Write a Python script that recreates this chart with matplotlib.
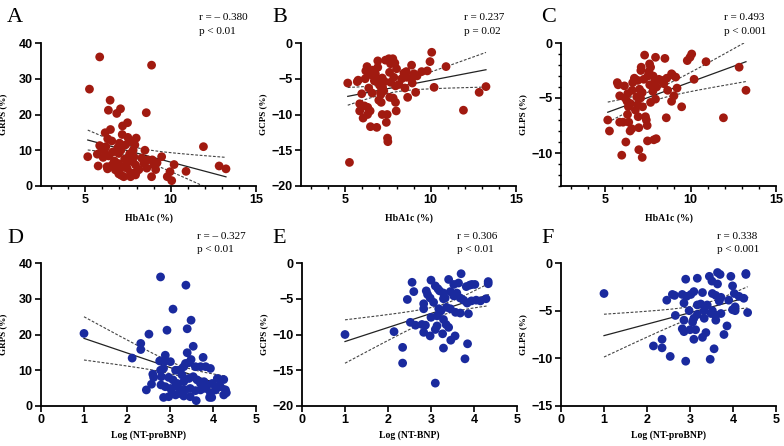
import numpy as np
import matplotlib
matplotlib.use("Agg")
import matplotlib.pyplot as plt

####################################################################
# Data
####################################################################
# HbA1c (%) - shared by panels A, B, C
hba1c = [5.14, 5.24, 5.70, 5.75, 5.84, 5.84, 5.96, 6.04, 6.12, 6.16,
         6.20, 6.27, 6.30, 6.31, 6.35, 6.37, 6.45, 6.47, 6.55, 6.57,
         6.60, 6.70, 6.76, 6.84, 6.90, 6.90, 6.92, 6.96, 6.96, 7.00,
         7.06, 7.08, 7.10, 7.16, 7.16, 7.18, 7.25, 7.30, 7.35, 7.40,
         7.45, 7.47, 7.49, 7.55, 7.59, 7.60, 7.65, 7.65, 7.78, 7.80,
         7.84, 7.90, 7.94, 7.94, 7.98, 8.00, 8.14, 8.30, 8.43, 8.49,
         8.57, 8.60, 8.65, 8.88, 8.88, 8.92, 9.02, 9.12, 9.20, 9.47,
         9.80, 9.96, 10.06, 10.20, 10.90, 11.92, 12.84, 13.24]

grps_a = [8.2, 27.1, 8.9, 5.6, 36.1, 11.3, 10.5, 8.0, 9.8, 14.9,
          11.0, 5.4, 4.8, 13.2, 21.2, 8.4, 24.0, 15.8, 12.6, 5.9,
          9.5, 7.0, 4.5, 20.3, 10.7, 4.2, 6.3, 9.1, 3.4, 12.0,
          21.6, 10.0, 3.0, 14.4, 5.2, 16.8, 2.6, 7.5, 11.5, 6.0,
          4.9, 17.7, 13.6, 8.2, 12.4, 9.0, 3.7, 2.6, 6.8, 10.0,
          8.2, 11.5, 5.9, 3.1, 13.4, 4.0, 4.6, 7.8, 6.3, 10.0,
          20.5, 5.0, 7.3, 33.8, 2.6, 7.3, 5.9, 4.6, 6.5, 8.2,
          2.6, 4.0, 1.5, 6.0, 4.1, 11.0, 5.6, 4.8]

gcps_b = [-5.6, -16.7, -5.4, -5.2, -8.5, -9.5, -7.1, -10.5, -8.8, -5.0,
          -3.9, -3.3, -10.0, -9.0, -4.2, -6.3, -9.5, -11.7, -4.5, -7.0,
          -3.8, -5.3, -4.3, -11.8, -2.5, -3.4, -5.1, -5.6, -8.0, -5.9,
          -6.9, -7.2, -8.3, -10.0, -4.9, -6.2, -6.7, -5.4, -2.4, -11.1,
          -10.0, -13.3, -13.8, -2.2, -4.1, -7.6, -2.9, -5.5, -2.2, -7.7,
          -4.8, -2.8, -8.3, -6.0, -9.5, -3.6, -5.8, -5.0, -4.2, -6.3,
          -4.0, -4.8, -7.6, -5.0, -3.1, -5.6, -4.3, -6.9, -4.6, -4.0,
          -3.9, -2.6, -1.3, -6.2, -3.3, -9.4, -6.9, -6.1]

glps_c = [-7.0, -8.0, -3.6, -3.8, -4.8, -7.2, -10.2, -7.2, -3.9, -5.0,
          -9.0, -5.3, -6.5, -4.6, -5.8, -7.2, -8.0, -5.5, -7.8, -4.3,
          -3.6, -3.2, -6.1, -4.9, -5.6, -3.4, -6.7, -7.7, -9.7, -4.2,
          -5.0, -2.5, -2.2, -10.4, -4.5, -5.8, -3.3, -1.1, -6.7, -7.0,
          -7.5, -8.9, -3.0, -2.6, -1.9, -3.8, -5.4, -2.2, -4.4, -3.0,
          -8.8, -3.5, -1.3, -5.1, -8.7, -4.0, -3.3, -3.4, -3.7, -1.4,
          -6.8, -3.2, -4.3, -2.8, -5.3, -2.9, -4.8, -3.1, -4.1, -5.8,
          -1.6, -1.3, -1.0, -3.3, -1.7, -6.8, -2.2, -4.3]

# Log (NT-proBNP) vs GRPS - panel D
bnp_d = [1.00, 2.12, 2.32, 2.32, 2.45, 2.51, 2.57, 2.60, 2.62, 2.76,
         2.78, 2.78, 2.79, 2.80, 2.85, 2.85, 2.89, 2.89, 2.89, 2.93,
         2.97, 2.97, 3.01, 3.01, 3.05, 3.07, 3.07, 3.13, 3.13, 3.13,
         3.17, 3.20, 3.22, 3.24, 3.28, 3.32, 3.32, 3.32, 3.36, 3.36,
         3.37, 3.40, 3.40, 3.44, 3.44, 3.47, 3.47, 3.49, 3.49, 3.54,
         3.54, 3.59, 3.59, 3.61, 3.63, 3.71, 3.71, 3.71, 3.77, 3.79,
         3.83, 3.83, 3.87, 3.92, 3.94, 3.94, 3.97, 3.98, 4.06, 4.06,
         4.10, 4.16, 4.17, 4.25, 4.25, 4.29, 4.31]
grps_d = [20.3, 13.4, 17.5, 15.8, 4.5, 20.1, 6.1, 8.9, 8.0, 12.6,
          36.1, 10.0, 5.9, 8.2, 10.5, 2.4, 14.2, 12.6, 5.4, 21.2,
          8.0, 2.6, 12.4, 4.9, 3.5, 27.1, 7.3, 10.0, 5.5, 3.1,
          6.3, 10.0, 3.5, 4.7, 8.7, 11.0, 6.8, 2.8, 11.9, 4.5,
          33.8, 21.6, 14.9, 12.1, 7.7, 4.9, 2.6, 24.0, 13.0, 16.7,
          8.2, 11.0, 4.3, 1.5, 7.3, 11.0, 6.3, 4.5, 13.6, 6.8,
          11.0, 4.9, 5.9, 2.4, 10.5, 3.7, 2.4, 6.3, 5.4, 4.5,
          7.7, 7.4, 5.4, 7.4, 3.1, 4.5, 3.7]

# Log (NT-BNP) vs GCPS - panel E
bnp_e = [1.00, 2.14, 2.34, 2.34, 2.45, 2.52, 2.56, 2.60, 2.64, 2.79,
         2.83, 2.83, 2.83, 2.87, 2.89, 2.92, 2.98, 2.98, 3.00, 3.00,
         3.06, 3.10, 3.10, 3.10, 3.14, 3.14, 3.16, 3.18, 3.20, 3.23,
         3.27, 3.29, 3.29, 3.29, 3.29, 3.33, 3.35, 3.36, 3.41, 3.41,
         3.45, 3.45, 3.46, 3.53, 3.53, 3.56, 3.57, 3.60, 3.64, 3.68,
         3.68, 3.70, 3.76, 3.79, 3.82, 3.84, 3.85, 3.87, 3.90, 3.94,
         3.95, 4.02, 4.05, 4.15, 4.28, 4.33, 4.33]
gcps_e = [-10.0, -9.6, -11.8, -14.0, -5.1, -8.3, -2.7, -4.0, -8.7, -8.6,
          -5.7, -6.4, -9.7, -8.7, -3.9, -4.4, -4.9, -10.2, -2.4, -7.6,
          -5.5, -3.2, -9.3, -16.8, -8.8, -7.4, -3.6, -6.4, -3.9, -6.7,
          -9.9, -4.2, -7.9, -11.9, -5.0, -4.9, -8.6, -6.2, -2.3, -9.0,
          -4.0, -6.4, -10.8, -3.0, -4.6, -10.2, -6.9, -4.2, -2.8, -4.9,
          -7.0, -1.5, -5.2, -13.4, -3.3, -5.6, -11.3, -7.1, -3.1, -5.3,
          -3.0, -3.0, -5.2, -5.3, -5.0, -2.6, -2.9]

# Log (NT-proBNP) vs GLPS - panel F
bnp_f = [1.00, 2.15, 2.35, 2.35, 2.46, 2.54, 2.59, 2.64, 2.66, 2.82,
         2.82, 2.86, 2.86, 2.86, 2.90, 2.90, 2.92, 2.98, 3.00, 3.02,
         3.06, 3.09, 3.09, 3.09, 3.13, 3.17, 3.17, 3.17, 3.25, 3.29,
         3.29, 3.33, 3.33, 3.37, 3.40, 3.45, 3.47, 3.49, 3.51, 3.52,
         3.52, 3.56, 3.60, 3.60, 3.60, 3.64, 3.64, 3.68, 3.70, 3.72,
         3.72, 3.79, 3.86, 3.90, 3.95, 3.99, 3.99, 4.03, 4.05, 4.05,
         4.14, 4.25, 4.30, 4.30, 4.34]
glps_f = [-3.2, -8.7, -8.0, -8.9, -3.9, -9.8, -3.3, -3.4, -5.5, -3.3,
          -6.9, -4.2, -6.0, -7.2, -1.7, -10.3, -3.5, -5.0, -7.0, -3.3,
          -6.2, -3.0, -8.0, -5.8, -7.0, -1.6, -4.4, -5.4, -4.3, -3.1,
          -7.8, -5.0, -5.8, -7.3, -4.4, -1.4, -10.1, -5.3, -1.9, -3.2,
          -5.0, -9.0, -3.4, -5.5, -6.0, -1.0, -2.2, -4.0, -1.2, -3.6,
          -5.3, -7.5, -6.6, -3.9, -1.4, -2.4, -4.9, -3.2, -4.6, -5.0,
          -3.5, -3.7, -1.2, -1.1, -5.2]

panel_letters = ["A", "B", "C", "D", "E", "F"]
r_texts = ["r = \u2013 0.380", "r = 0.237", "r = 0.493",
           "r = \u2013 0.327", "r = 0.306", "r = 0.338"]
p_texts = ["p < 0.01", "p = 0.02", "p < 0.001",
           "p < 0.01", "p < 0.01", "p < 0.001"]
y_labels = ["GRPS (%)", "GCPS (%)", "GLPS (%)",
            "GRPS (%)", "GCPS (%)", "GLPS (%)"]
x_labels = ["HbA1c (%)", "HbA1c (%)", "HbA1c (%)",
            "Log (NT-proBNP)", "Log (NT-BNP)", "Log (NT-proBNP)"]

RED = "#a11a10"
BLUE = "#1a2a9e"
SANS = "Liberation Sans"
SERIF = "Liberation Serif"


####################################################################
# Functions
####################################################################
def fit_band(x, y):
    # least squares line with 95% confidence band of the mean
    x = np.asarray(x, float)
    y = np.asarray(y, float)
    n = len(x)
    slope, intercept = np.polyfit(x, y, 1)
    xs = np.linspace(x.min(), x.max(), 200)
    yhat = intercept + slope * xs
    resid = y - (intercept + slope * x)
    s = np.sqrt(np.sum(resid ** 2) / (n - 2))
    sxx = np.sum((x - x.mean()) ** 2)
    se = s * np.sqrt(1.0 / n + (xs - x.mean()) ** 2 / sxx)
    return xs, yhat, yhat - 1.99 * se, yhat + 1.99 * se


def style_axes(ax, xlim, ylim, xmajor, ymajor, xminor=None, yminor=None):
    for side in ["top", "right"]:
        ax.spines[side].set_visible(False)
    for side in ["left", "bottom"]:
        ax.spines[side].set_linewidth(1.3)
    ax.set_xlim(*xlim)
    ax.set_ylim(*ylim)
    ax.set_xticks(xmajor)
    ax.set_yticks(ymajor)
    if xminor is not None:
        ax.set_xticks(xminor, minor=True)
    if yminor is not None:
        ax.set_yticks(yminor, minor=True)
    ax.tick_params(which="major", direction="out", length=4, width=1.2,
                   pad=2, labelsize=9)
    ax.tick_params(which="minor", direction="out", length=2.5, width=1.0)
    for lab in ax.get_xticklabels() + ax.get_yticklabels():
        lab.set_fontfamily(SANS)
        lab.set_fontweight("bold")


####################################################################
# Figure
####################################################################
fig = plt.figure(figsize=(7.84, 4.46), dpi=100)

W, H = 784.0, 446.0
lefts = [41, 301, 561]
tops = [43, 263]
aw, ah = 215, 143

panels = [
    (hba1c, grps_a, RED), (hba1c, gcps_b, RED), (hba1c, glps_c, RED),
    (bnp_d, grps_d, BLUE), (bnp_e, gcps_e, BLUE), (bnp_f, glps_f, BLUE),
]
ylims = [(0, 40), (-20, 0), (-13, 0), (0, 40), (-20, 0), (-15, 0)]
yticks = [np.arange(0, 41, 10), np.arange(-20, 1, 5), [-10, -5, 0],
          np.arange(0, 41, 10), np.arange(-20, 1, 5), [-15, -10, -5, 0]]

for i, (xd, yd, col) in enumerate(panels):
    row, colm = divmod(i, 3)
    left = lefts[colm] + (1 if i == 4 else 0)
    top = tops[row]
    ax = fig.add_axes([left / W, 1 - (top + ah) / H, aw / W, ah / H])

    xs, yhat, lo, hi = fit_band(xd, yd)
    ax.plot(xs, hi, color="#444444", lw=0.8, ls=(0, (2.5, 1.5)))
    ax.plot(xs, lo, color="#444444", lw=0.8, ls=(0, (2.5, 1.5)))
    ax.plot(xs, yhat, color="#222222", lw=0.9)
    ax.scatter(xd, yd, s=40, color=col, edgecolors="none", zorder=3,
               clip_on=False)

    if row == 0:
        yminor = np.arange(-13, 1, 1) if i == 2 else None
        style_axes(ax, (2.4, 15), ylims[i], [5, 10, 15], yticks[i],
                   xminor=[3, 4, 6, 7, 8, 9, 11, 12, 13, 14], yminor=yminor)
    else:
        style_axes(ax, (0, 5), ylims[i], np.arange(0, 6, 1), yticks[i])

    ax.set_xlabel(x_labels[i], fontfamily=SERIF, fontweight="bold",
                  fontsize=7)
    ax.xaxis.set_label_coords(0.5, -0.19 if row == 0 else -0.17)
    ax.set_ylabel(y_labels[i], fontfamily=SERIF, fontweight="bold",
                  fontsize=6.5)
    ax.yaxis.set_label_coords(-0.155, 0.5)

    # panel letter and statistics
    letter_x = [7, 272, 541][colm]
    base = [22, 243][row]
    fig.text(letter_x / W, 1 - base / H, panel_letters[i],
             fontfamily=SERIF, fontsize=16, va="baseline")
    rx = [[199, 464, 724], [197, 457, 717]][row][colm]
    rb = [20, 239][row]
    fig.text(rx / W, 1 - rb / H, r_texts[i], fontfamily=SERIF,
             fontsize=8, va="baseline")
    fig.text(rx / W, 1 - (rb + 13.5) / H, p_texts[i], fontfamily=SERIF,
             fontsize=8, va="baseline")

fig.savefig("out.png", dpi=100)
